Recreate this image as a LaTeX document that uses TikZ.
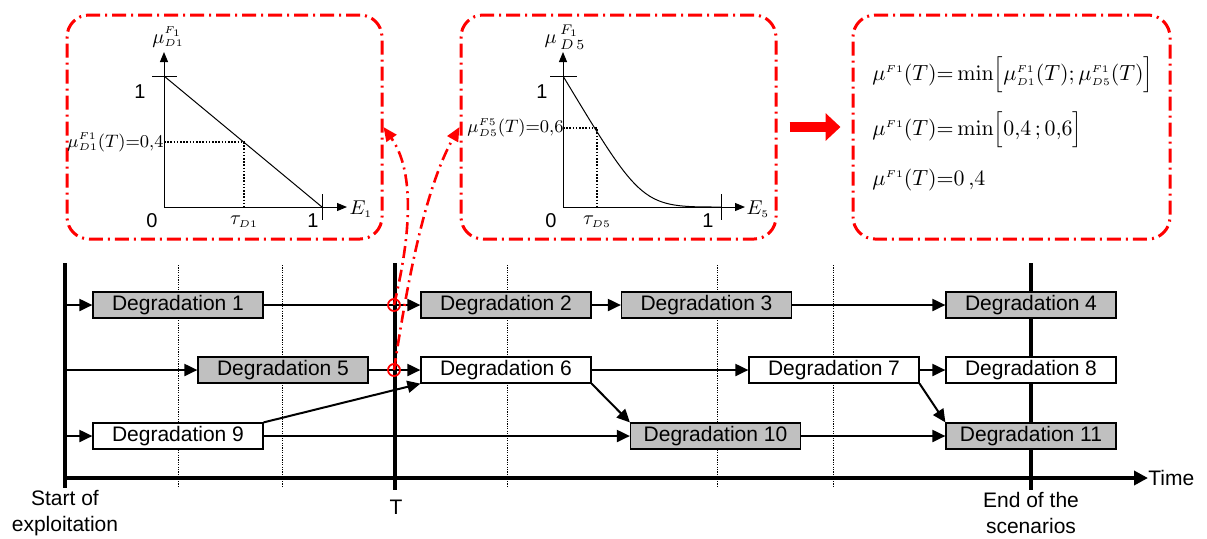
\documentclass[tikz,border=0pt]{standalone}
\usepackage[no-math]{fontspec}
\setmainfont{Liberation Sans}
\usetikzlibrary{arrows.meta}
\definecolor{boxgray}{RGB}{192,192,192}
\newcommand{\mem}[2]{\mu^{\scriptscriptstyle #1}_{\scriptscriptstyle #2}}

\begin{document}
\begin{tikzpicture}[x=0.5pt,y=-0.5pt,
        >={Triangle[length=6.5pt,width=6pt]},
        deg/.style={draw,line width=0.6pt,minimum width=85pt,minimum height=13pt,inner sep=0pt,font=\fontsize{10.5}{12.5}\selectfont},
        act/.style={deg,fill=boxgray},
        conn/.style={line width=1pt},
        bar/.style={line width=2.2pt},
        grid/.style={line width=0.5pt,dash pattern=on 0.6pt off 0.6pt},
        redbox/.style={draw=red,line width=1.5pt,rounded corners=11pt,dash pattern=on 7pt off 2.5pt on 1pt off 2.5pt,minimum width=157.5pt,minimum height=112pt},
        redarr/.style={red,line width=1.3pt,dash pattern=on 6pt off 2.5pt on 1pt off 2.5pt,-{Triangle[length=7pt,width=6pt]}},
        hit/.style={circle,draw=red,line width=0.9pt,minimum size=6pt,inner sep=0pt},
        axis/.style={line width=0.5pt,-{Triangle[length=5pt,width=4pt]}},
        guide/.style={line width=0.8pt,dash pattern=on 0.8pt off 0.8pt},
        num/.style={font=\fontsize{10}{12}\selectfont,inner sep=0pt},
        lbl/.style={font=\fontsize{10}{12}\selectfont,inner sep=0pt},
        level/.style={anchor=east,font=\fontsize{8.8}{10.5}\selectfont,inner sep=0pt},
        formula/.style={anchor=west,inner sep=0pt,font=\fontsize{11}{13.5}\selectfont},
        note/.style={font=\fontsize{10.5}{12.6}\selectfont,align=center,inner sep=0pt}]
    \useasboundingbox (0,0) rectangle (1207,538);

    % Membership of degradation 1
    \node[redbox] (gA) at (224.5,127) {};
    \draw[axis] (164,207) -- (164,52);
    \draw[axis] (164,207) -- (347,207);
    \draw[line width=0.5pt] (152,76) -- (177,76);
    \draw[line width=0.5pt] (322,194) -- (322,220);
    \draw[line width=0.5pt] (164,76) -- (322,207);
    \draw[guide] (164,142) -- (244,142) -- (244,207);
    \node[num] at (140,92) {1};
    \node[num] at (152,221) {0};
    \node[num] at (313,221) {1};
    \node[lbl] at (244,222) {$\tau_{\scriptscriptstyle D1}$};
    \node[lbl] at (361,209) {$E_{\scriptscriptstyle 1}$};
    \node[lbl] at (168,37) {$\mem{F_1}{D1}$};
    \node[level] at (164,142) {$\mem{F1}{D1}(T){=}0{,}4$};

    % Membership of degradation 5
    \node[redbox] (gB) at (618.5,127) {};
    \draw[axis] (563,207) -- (563,52);
    \draw[axis] (563,207) -- (745,207);
    \draw[line width=0.5pt] (550,76) -- (577,76);
    \draw[line width=0.5pt] (721,194) -- (721,220);
    \draw[line width=0.5pt] (563,76) .. controls (642,207) .. (721,207);
    \draw[guide] (563,128) -- (597,128) -- (597,207);
    \node[num] at (542,92) {1};
    \node[num] at (551,221) {0};
    \node[num] at (708,221) {1};
    \node[lbl] at (597,222) {$\tau_{\scriptscriptstyle D5}$};
    \node[lbl] at (758,209) {$E_{\scriptscriptstyle 5}$};
    \node[lbl] at (565,37) {$\mu\,^{F_1}_{D\,5}$};
    \node[level] at (564,128) {$\mem{F5}{D5}(T){=}0{,}6$};

    % Result
    \node[redbox,minimum width=158.5pt] (gC) at (1011.5,127) {};
    \node[formula] (f1) at (872,75)
        {$\mem{F1}{}(T){=}\min\Bigl[\mem{F1}{D1}(T);\mem{F1}{D5}(T)\Bigr]$};
    \node[formula] (f2) at (872,130)
        {$\mem{F1}{}(T){=}\min\Bigl[0{,}4\,;0{,}6\Bigr]$};
    \node[formula] (f3) at (872,180)
        {$\mem{F1}{}(T){=}0\,{,}4$};
    \draw[red,line width=5pt,-{Triangle[length=7.5pt,width=13.5pt]}] ([xshift=6pt]gB.east) -- ([xshift=-5.5pt]gC.west);

    % Time frame
    \draw[grid] (178,265) -- (178,488);
    \draw[grid] (282,265) -- (282,488);
    \draw[grid] (507,265) -- (507,488);
    \draw[grid] (717,265) -- (717,488);
    \draw[grid] (833,265) -- (833,488);
    \draw[bar] (65,263) -- (65,488);
    \draw[bar] (395,263) -- (395,490);
    \draw[bar] (1031,263) -- (1031,490);
    \coordinate (o) at (65,478);
    \node[anchor=west,inner sep=0pt,font=\fontsize{10.5}{12.5}\selectfont] (time) at (1148,478) {Time};
    \draw[bar,-{Triangle[length=7pt,width=7pt]}] (o) -- (time.west);
    \node[note] (start) at (65,513) {Start of\\exploitation};
    \node[note] (tee) at (396,507) {T};
    \node[note] (stop) at (1031,513) {End of the\\scenarios};

    % Degradations
    \node[act] (D1) at (178,305) {Degradation 1};
    \node[act] (D2) at (506,305) {Degradation 2};
    \node[act] (D3) at (706.5,305) {Degradation 3};
    \node[act] (D4) at (1031,305) {Degradation 4};
    \node[act] (D5) at (283,370) {Degradation 5};
    \node[deg,fill=white] (D6) at (506,370) {Degradation 6};
    \node[deg,fill=white] (D7) at (834,370) {Degradation 7};
    \node[deg,fill=white] (D8) at (1031,370) {Degradation 8};
    \node[deg,fill=white] (D9) at (178,436) {Degradation 9};
    \node[act] (D10) at (715.5,436) {Degradation 10};
    \node[act] (D11) at (1031,436) {Degradation 11};
    \coordinate (s1) at (65,305);
    \coordinate (s2) at (65,370);
    \coordinate (s3) at (65,436);

    \draw[conn,->] (s1) -- (D1);
    \draw[conn,->] (s2) -- (D5);
    \draw[conn,->] (s3) -- (D9);
    \draw[conn,->] (D1) -- (D2);
    \draw[conn,->] (D2) -- (D3);
    \draw[conn,->] (D3) -- (D4);
    \draw[conn,->] (D5) -- (D6);
    \draw[conn,->] (D6) -- (D7);
    \draw[conn,->] (D7) -- (D8);
    \draw[conn,->] (D9) -- (D10);
    \draw[conn,->] (D10) -- (D11);
    \draw[conn,->] (D9.north east) -- (D6.south west);
    \draw[conn,->] (D6.south east) -- (D10.north west);
    \draw[conn,->] (D7.south east) -- (D11.north west);

    % Reading the membership at T
    \node[hit] (c1) at (394,305) {};
    \node[hit] (c2) at (394,370) {};
    \draw[redarr] (c1.center) .. controls (412,230) and (414,170) .. (gA.east);
    \draw[redarr] (c2.center) .. controls (406,290) and (424,190) .. (gB.west);
\end{tikzpicture}
\end{document}
